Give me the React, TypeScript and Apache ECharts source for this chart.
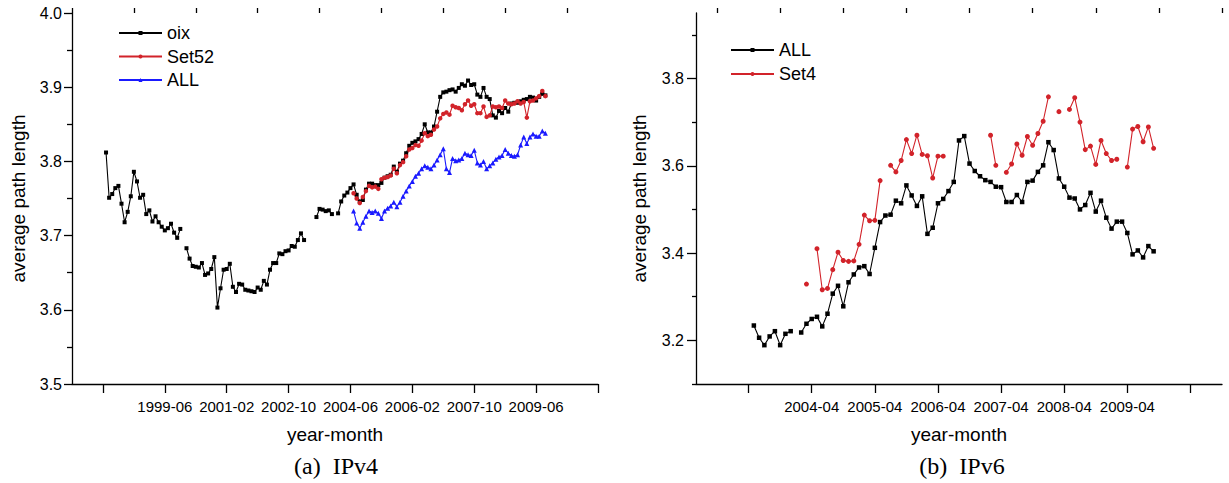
import React, { useEffect, useRef } from "react";
import * as echarts from "echarts";

// ---------- helpers ----------
const ym = (s: string) => {
  const [y, m] = s.split("-").map(Number);
  return y * 12 + m - 1;
};
const fmt = (g: number) => `${Math.floor(g / 12)}-${String((g % 12) + 1).padStart(2, "0")}`;
const toData = (start: string, values: (number | null)[]) => {
  const s = ym(start);
  return values.map((v, i) => [s + i, v === null ? "-" : v]);
};

// ---------- (a) IPv4 ----------
const v4AxisRange = ["1996-12", "2011-02"];
const v4MajorTicks = ["1997-10", "1999-06", "2001-02", "2002-10", "2004-06", "2006-02", "2007-10", "2009-06", "2011-02"];
const v4MinorTicks = ["1996-12", "1998-08", "2000-04", "2001-12", "2003-08", "2005-04", "2006-12", "2008-08", "2010-04"];
const v4TickLabels = ["1999-06", "2001-02", "2002-10", "2004-06", "2006-02", "2007-10", "2009-06"];

const oixStart = "1997-11";
const oixValues: (number | null)[] = [
  3.812, 3.751, 3.756, 3.764, 3.767, 3.743, 3.718, 3.732, 3.753, 3.786, 3.773, 3.751, 3.755, 3.729, 3.734,
  3.719, 3.726, 3.718, 3.712, 3.707, 3.710, 3.716, 3.704, 3.697, 3.709,
  null,
  3.683, 3.669, 3.659, 3.658, 3.657, 3.663, 3.647, 3.649, 3.655, 3.671, 3.603, 3.629, 3.654, 3.655, 3.662,
  3.631, 3.624, 3.635, 3.634, 3.627, 3.626, 3.625, 3.624, 3.630, 3.627, 3.639, 3.634, 3.654, 3.663, 3.663,
  3.676, 3.675, 3.679, 3.680, 3.686, 3.685, 3.694, 3.703, 3.694,
  null, null, null,
  3.725, 3.736, 3.735, 3.733, 3.734, 3.729,
  null,
  3.730, 3.746, 3.754, 3.758, 3.764, 3.769,
  3.755, 3.746, 3.748, 3.762, 3.770, 3.770, 3.768, 3.768, 3.771, 3.778, 3.780, 3.782, 3.793, 3.786, 3.797,
  3.801, 3.811, 3.821, 3.825, 3.827, 3.830, 3.837, 3.850, 3.839, 3.839, 3.847, 3.867, 3.887, 3.893, 3.894,
  3.896, 3.897, 3.894, 3.899, 3.904, 3.902, 3.909, 3.903, 3.904, 3.890, 3.887, 3.899, 3.887, 3.884, 3.862,
  3.859, 3.868, 3.865, 3.872, 3.867, 3.878, 3.879, 3.879, 3.881, 3.883, 3.884, 3.887, 3.886, 3.882, 3.887,
  3.891, 3.889,
];

const set52Start = "2004-07";
const set52Values: (number | null)[] = [
  3.757, 3.750, 3.744, 3.752, 3.760, 3.767, 3.765, 3.766, 3.763, 3.776, 3.778, 3.779, 3.781, 3.790, 3.784,
  3.795, 3.799, 3.807, 3.816, 3.818, 3.822, 3.821, 3.828, 3.838, 3.834, 3.836, 3.843, 3.847, 3.858, 3.864,
  3.866, 3.863, 3.875, 3.873, 3.872, 3.869, 3.877, 3.882, 3.875, 3.877, 3.865, 3.865, 3.874, 3.860, 3.862,
  3.874, 3.873, 3.874, 3.872, 3.882, 3.878, 3.877, 3.878, 3.881, 3.878, 3.880, 3.859, 3.881, 3.882, 3.885,
  3.888, 3.895, 3.888,
];

const all4Start = "2004-07";
const all4Values: (number | null)[] = [
  3.733, 3.717, 3.710, 3.718, 3.726, 3.733, 3.731, 3.733, 3.730, 3.723, 3.733, 3.737, 3.740, 3.745, 3.739,
  3.745, 3.753, 3.760, 3.767, 3.773, 3.780, 3.784, 3.790, 3.794, 3.792, 3.790, 3.795, 3.802, 3.809, 3.817,
  3.790, 3.785, 3.804, 3.801, 3.802, 3.804, 3.811, 3.809, 3.808, 3.815, 3.798, 3.795, 3.800, 3.790, 3.794,
  3.798, 3.803, 3.806, 3.808, 3.816, 3.811, 3.808, 3.807, 3.809, 3.822, 3.833, 3.824, 3.833, 3.837, 3.834,
  3.834, 3.841, 3.838,
];

// ---------- (b) IPv6 ----------
const v6AxisRange = ["2002-06", "2010-10"];
const v6MajorTicks = ["2003-04", "2004-04", "2005-04", "2006-04", "2007-04", "2008-04", "2009-04", "2010-04"];
const v6MinorTicks = ["2002-10", "2003-10", "2004-10", "2005-10", "2006-10", "2007-10", "2008-10", "2009-10", "2010-10"];
const v6TickLabels = ["2004-04", "2005-04", "2006-04", "2007-04", "2008-04", "2009-04"];
const v6MajorY = [3.2, 3.4, 3.6, 3.8];
const v6MinorY = [3.1, 3.3, 3.5, 3.7, 3.9];

const all6Start = "2003-05";
const all6Values: (number | null)[] = [
  3.234, 3.206, 3.189, 3.209, 3.221, 3.189, 3.215, 3.221, null, 3.218, 3.238, 3.249, 3.254, 3.232, 3.261,
  3.307, 3.325, 3.278, 3.333, 3.351, 3.367, 3.370, 3.352, 3.412, 3.471, 3.486, 3.488, 3.520, 3.514, 3.555,
  3.532, 3.508, 3.530, 3.444, 3.458, 3.514, 3.524, 3.542, 3.563, 3.658, 3.668, 3.605, 3.588, 3.576, 3.567,
  3.563, 3.552, 3.551, 3.517, 3.517, 3.533, 3.517, 3.563, 3.566, 3.586, 3.601, 3.654, 3.636, 3.571, 3.552,
  3.527, 3.525, 3.500, 3.510, 3.538, 3.495, 3.520, 3.481, 3.456, 3.472, 3.472, 3.446, 3.397, 3.406, 3.390,
  3.416, 3.404,
];

const set4Start = "2004-03";
const set4Values: (number | null)[] = [
  3.329, null, 3.410, 3.316, 3.319, 3.362, 3.402, 3.383, 3.381, 3.382, 3.420, 3.487, 3.474, 3.475, 3.566,
  null, 3.601, 3.586, 3.612, 3.660, 3.628, 3.670, 3.626, 3.623, 3.572, 3.622, 3.622,
  null, null, null, null, null, null, null, null,
  3.670, 3.601, null, 3.585, 3.604, 3.650, 3.624, 3.667, 3.647, 3.674, 3.702, 3.758, null, 3.724, null,
  3.729, 3.756, 3.700, 3.637, 3.645, 3.603, 3.658, 3.628, 3.612, 3.615, null, 3.597, 3.684, 3.690, 3.655,
  3.689, 3.640,
];

// ---------- styling ----------
const SANS = "'Liberation Sans', Arial, sans-serif";
const SERIF = "'Liberation Serif', 'Times New Roman', serif";
const BLACK = "#000000";
const RED = "#d2232a";
const BLUE = "#1a1aff";
const AX = { color: BLACK, width: 1.3 };

const lineSeries = (name: string, data: any[], color: string, symbol: string, size: number) => ({
  name,
  type: "line",
  data,
  symbol,
  symbolSize: size,
  showSymbol: true,
  connectNulls: false,
  lineStyle: { color, width: 1.1 },
  itemStyle: { color },
  emphasis: { disabled: true },
  silent: true,
});

const xAxes = (range: string[], major: string[], minor: string[], labels: string[]) => [
  {
    type: "value",
    min: ym(range[0]),
    max: ym(range[1]),
    axisLine: { show: true, lineStyle: AX },
    splitLine: { show: false },
    axisTick: { show: true, customValues: major.map(ym), length: 9, lineStyle: AX },
    axisLabel: {
      customValues: labels.map(ym),
      formatter: (v: number) => fmt(Math.round(v)),
      fontSize: 15,
      fontFamily: SANS,
      color: BLACK,
      margin: 15,
    },
    name: "year-month",
    nameLocation: "middle",
    nameGap: 41,
    nameTextStyle: { fontSize: 19, fontFamily: SANS, color: BLACK },
  },
  {
    type: "value",
    min: ym(range[0]),
    max: ym(range[1]),
    axisLine: { show: false },
    splitLine: { show: false },
    axisTick: { show: true, customValues: minor.map(ym), length: 5, lineStyle: AX },
    axisLabel: { show: false },
  },
];

const yName = (gap: number) => ({
  name: "average path length",
  nameLocation: "middle",
  nameRotate: 90,
  nameGap: gap,
  nameTextStyle: { fontSize: 19, fontFamily: SANS, color: BLACK },
});

const caption = (x: number, text: string) => ({
  type: "text",
  x,
  y: 466,
  style: { text, fontSize: 24, fontFamily: SERIF, fill: BLACK, align: "center", verticalAlign: "middle" },
});

const legendBase = {
  orient: "vertical",
  padding: 0,
  itemWidth: 43,
  itemHeight: 5,
  textStyle: { fontSize: 18, fontFamily: SANS, color: BLACK, lineHeight: 18 },
  selectedMode: false,
};

const leftOption = {
  animation: false,
  grid: { left: 72, right: 16, top: 13, bottom: 99 },
  xAxis: xAxes(v4AxisRange, v4MajorTicks, v4MinorTicks, v4TickLabels),
  yAxis: {
    type: "value",
    min: 3.5,
    max: 4.0,
    interval: 0.1,
    axisLine: { show: true, lineStyle: AX },
    axisTick: { show: true, length: 8, lineStyle: AX },
    minorTick: { show: true, splitNumber: 2, length: 5, lineStyle: AX },
    splitLine: { show: false },
    minorSplitLine: { show: false },
    axisLabel: { formatter: (v: number) => v.toFixed(1), fontSize: 16, fontFamily: SANS, color: BLACK, margin: 10 },
    ...yName(44),
  },
  legend: { ...legendBase, left: 118, top: 24, itemGap: 5.5, data: ["oix", "Set52", "ALL"] },
  graphic: [caption(336, "(a)\u00a0\u00a0IPv4")],
  series: [
    lineSeries("oix", toData(oixStart, oixValues), BLACK, "rect", 4),
    lineSeries("Set52", toData(set52Start, set52Values), RED, "circle", 4.5),
    lineSeries("ALL", toData(all4Start, all4Values), BLUE, "triangle", 5),
  ],
};

const rightOption = {
  animation: false,
  grid: { left: 82, right: 7, top: 13, bottom: 99 },
  xAxis: xAxes(v6AxisRange, v6MajorTicks, v6MinorTicks, v6TickLabels),
  yAxis: [
    {
      type: "value",
      min: 3.1,
      max: 3.95,
      axisLine: { show: true, lineStyle: AX },
      axisTick: { show: true, customValues: v6MajorY, length: 9, lineStyle: AX },
      splitLine: { show: false },
      axisLabel: {
        customValues: v6MajorY,
        formatter: (v: number) => v.toFixed(1),
        fontSize: 16,
        fontFamily: SANS,
        color: BLACK,
        margin: 12,
      },
      ...yName(47),
    },
    {
      type: "value",
      min: 3.1,
      max: 3.95,
      position: "left",
      axisLine: { show: false },
      axisTick: { show: true, customValues: v6MinorY, length: 4, lineStyle: AX },
      splitLine: { show: false },
      axisLabel: { show: false },
    },
  ],
  legend: { ...legendBase, left: 116, top: 41, itemGap: 6, data: ["ALL", "Set4"] },
  graphic: [caption(348, "(b)\u00a0\u00a0IPv6")],
  series: [
    lineSeries("ALL", toData(all6Start, all6Values), BLACK, "rect", 4.5),
    lineSeries("Set4", toData(set4Start, set4Values), RED, "circle", 5),
  ],
};

function Chart({ option, left, width }: { option: any; left: number; width: number }) {
  const ref = useRef<HTMLDivElement>(null);
  useEffect(() => {
    if (!ref.current) return;
    const chart = echarts.init(ref.current, undefined, { renderer: "svg" });
    chart.setOption(option);
    return () => chart.dispose();
  }, [option]);
  return <div ref={ref} style={{ position: "absolute", left, top: 0, width, height: 483 }} />;
}

export default function App() {
  return (
    <div style={{ position: "absolute", left: 0, top: 0, width: 1229, height: 483, background: "#fff" }}>
      <Chart option={leftOption} left={0} width={614} />
      <Chart option={rightOption} left={614} width={615} />
    </div>
  );
}
